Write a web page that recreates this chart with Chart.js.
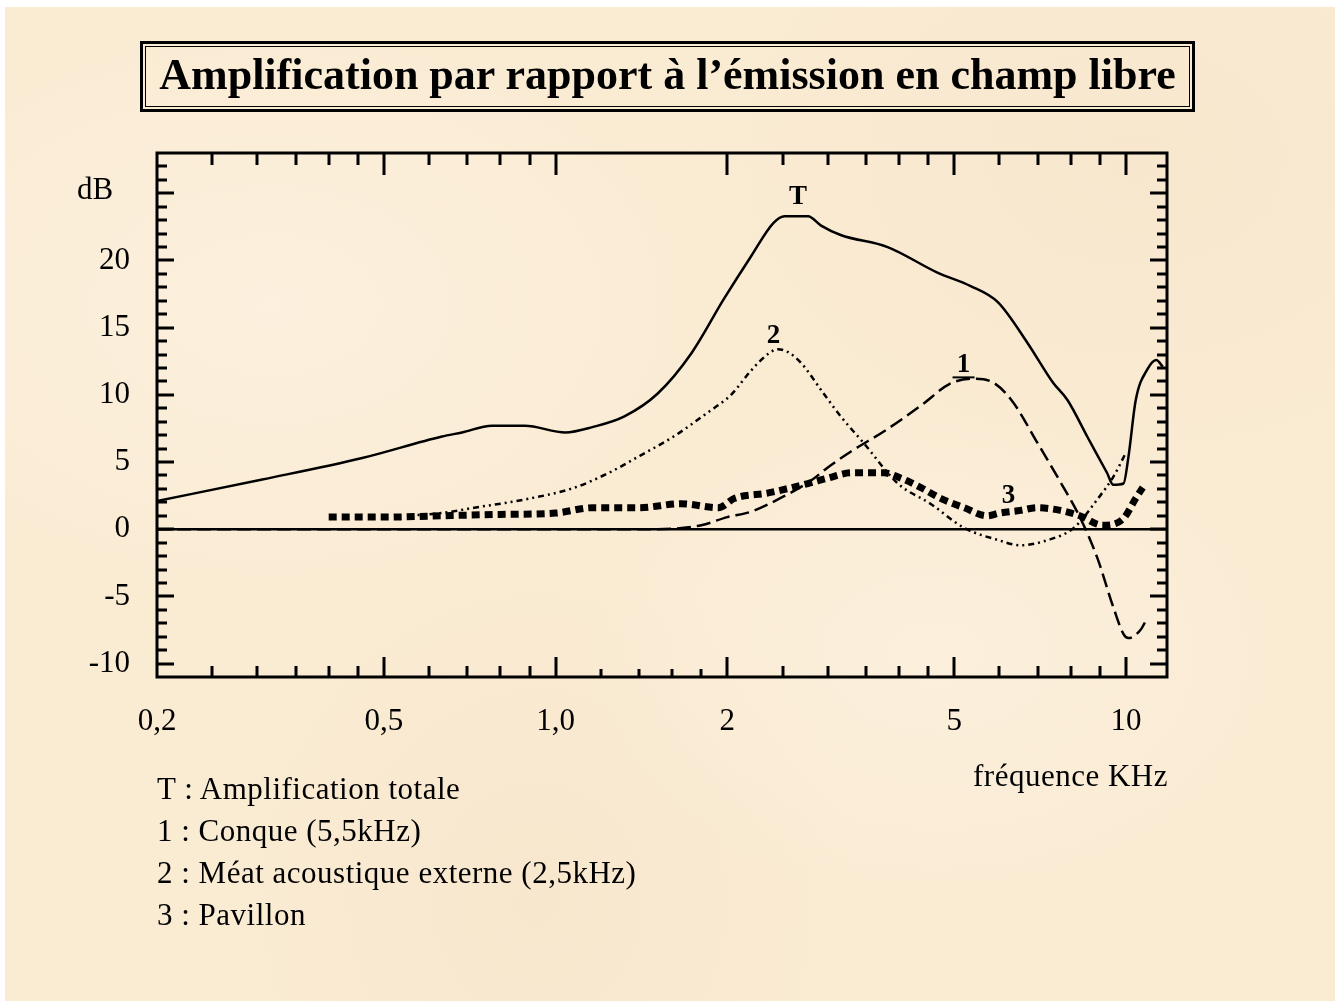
<!DOCTYPE html>
<html>
<head>
<meta charset="utf-8">
<script src="https://cdn.jsdelivr.net/npm/chart.js@4.4.1/dist/chart.umd.min.js"></script>
<style>
  body { margin: 0; background: #fff; }
  #wrap {
    position: relative; width: 1335px; height: 1001px; overflow: hidden;
    background: #fff;
  }
  #paper {
    position: absolute; left: 5px; top: 7px; right: 0; bottom: 0;
    background-color: #faebd3;
    background-image:
      radial-gradient(ellipse at 20% 30%, rgba(255,249,238,0.4), rgba(255,249,238,0) 30%),
      radial-gradient(ellipse at 70% 65%, rgba(255,249,238,0.35), rgba(255,249,238,0) 28%),
      radial-gradient(ellipse at 85% 15%, rgba(240,220,190,0.25), rgba(240,220,190,0) 28%),
      radial-gradient(ellipse at 40% 90%, rgba(240,220,190,0.25), rgba(240,220,190,0) 28%);
  }
  canvas { position: absolute; left: 0; top: 0; }
  .title {
    position: absolute; left: 140px; top: 41px; width: 1055px; height: 71px;
    box-sizing: border-box; border: 3px solid #000;
    box-shadow: inset 0 0 0 2px #faebd3, inset 0 0 0 3px #000;
    font: bold 44px "Liberation Serif", serif; text-align: center; line-height: 62px;
    color: #000; white-space: nowrap;
  }
  .legend {
    position: absolute; left: 157px; top: 768px;
    font: 31px "Liberation Serif", serif; letter-spacing: 0.5px; line-height: 42px; color: #000;
  }
  .xlabel {
    position: absolute; right: 167px; top: 758px;
    font: 31px "Liberation Serif", serif; letter-spacing: 0.5px; color: #000;
  }
</style>
</head>
<body>
<div id="wrap">
  <div id="paper"></div>
  <canvas id="chart" width="1335" height="1001"></canvas>
  <div class="title">Amplification par rapport à l’émission en champ libre</div>
  <div class="xlabel">fréquence KHz</div>
  <div class="legend">
    <div>T : Amplification totale</div>
    <div>1 : Conque (5,5kHz)</div>
    <div>2 : Méat acoustique externe (2,5kHz)</div>
    <div>3 : Pavillon</div>
  </div>
</div>
<script>
// T : amplification totale
const freqT = [0.2, 0.306, 0.458, 0.632, 0.685, 0.773, 0.883, 1.04, 1.16, 1.32, 1.51, 1.73, 1.97, 2.2, 2.41, 2.52, 2.77, 2.92, 3.16, 3.82, 4.67, 5.34, 5.96, 6.71, 7.45, 7.9, 8.55, 9.26, 9.5, 9.9, 10.1, 10.4, 10.9, 11.3, 11.6];
const ampT  = [2.1, 3.7, 5.3, 6.9, 7.2, 7.7, 7.7, 7.2, 7.6, 8.4, 10.1, 13.1, 17.1, 20.3, 22.8, 23.3, 23.3, 22.6, 21.9, 21.0, 19.1, 18.1, 16.9, 13.9, 10.9, 9.6, 6.9, 4.2, 3.3, 3.4, 5.4, 9.6, 11.9, 12.6, 12.1];

// 1 : conque
const freq1 = [0.2, 0.3, 0.5, 1.0, 1.5, 1.8, 2.0, 2.2, 2.5, 2.8, 3.0, 3.3, 3.8, 4.4, 4.9, 5.4, 5.8, 6.3, 7.0, 7.7, 8.3, 8.9, 9.5, 9.9, 10.1, 10.6, 10.9];
const amp1  = [0.0, 0.0, 0.0, 0.0, 0.0, 0.3, 0.9, 1.3, 2.4, 3.6, 4.6, 5.8, 7.4, 9.3, 10.8, 11.2, 11.0, 9.6, 6.4, 3.4, 0.9, -2.1, -5.8, -7.8, -8.1, -7.5, -6.6];

// 2 : méat acoustique externe
const freq2 = [0.55, 0.63, 0.72, 0.88, 1.08, 1.24, 1.41, 1.61, 1.85, 2.03, 2.2, 2.35, 2.45, 2.55, 2.69, 2.95, 3.16, 3.47, 3.98, 4.54, 5.2, 5.96, 6.53, 7.3, 8.1, 8.9, 9.5, 10.0];
const amp2  = [1.0, 1.2, 1.6, 2.2, 3.1, 4.2, 5.5, 6.9, 8.7, 10.0, 11.8, 13.0, 13.4, 13.2, 12.4, 10.1, 8.4, 6.4, 3.4, 1.9, 0.1, -0.8, -1.2, -0.8, 0.1, 2.2, 3.9, 5.7];

// 3 : pavillon
const freq3 = [0.4, 0.5, 0.63, 0.8, 1.0, 1.16, 1.4, 1.66, 1.93, 2.06, 2.36, 2.77, 3.0, 3.3, 3.76, 4.03, 4.37, 4.73, 5.2, 5.71, 6.0, 6.53, 6.98, 7.67, 8.3, 9.1, 9.9, 10.4, 10.7];
const amp3  = [0.9, 0.9, 1.0, 1.1, 1.2, 1.6, 1.6, 1.9, 1.6, 2.3, 2.7, 3.4, 3.8, 4.2, 4.2, 3.8, 3.1, 2.3, 1.6, 1.0, 1.2, 1.4, 1.6, 1.4, 1.0, 0.3, 0.8, 2.3, 3.1];

const zeroFreq = [0.2, 11.8];
const zeroAmp  = [0, 0];

// axes
const xTickValues = [0.2, 0.5, 1, 2, 5, 10];
const xTickText   = ['0,2', '0,5', '1,0', '2', '5', '10'];
const xMinorTicks = [0.25, 0.3, 0.35, 0.4, 0.45, 0.6, 0.7, 0.8, 0.9, 2.5, 3, 3.5, 4, 4.5, 6, 7, 8, 9];
const xSmallTicks = [1.2, 1.4, 1.6, 1.8];
const xMajorTicks = [0.5, 1, 2, 5, 10];
const yTickValues = [-10, -5, 0, 5, 10, 15, 20];
const yTickText   = ['-10', '-5', '0', '5', '10', '15', '20'];
const yMajorTicks = [-10, -5, 0, 5, 10, 15, 20, 25];
const yMinorTicks = [];
for (let v = -10; v <= 27; v++) if (v % 5 !== 0) yMinorTicks.push(v);

// curve labels
const curveLabels = [
  { text: 'T', x: 2.66, y: 24.7 },
  { text: '2', x: 2.41, y: 14.4 },
  { text: '1', x: 5.19, y: 12.2 },
  { text: '3', x: 6.22, y: 2.5 }
];

const pts = (xs, ys) => xs.map((x, i) => ({ x: x, y: ys[i] }));

const framePlugin = {
  id: 'frame',
  afterDraw(chart) {
    const ctx = chart.ctx;
    const a = chart.chartArea;
    const sx = chart.scales.x, sy = chart.scales.y;
    ctx.save();
    ctx.strokeStyle = '#000';
    ctx.lineWidth = 3;
    ctx.strokeRect(a.left, a.top, a.right - a.left, a.bottom - a.top);

    ctx.beginPath();
    const xt = (v, lenB, lenT) => {
      const px = Math.round(sx.getPixelForValue(v));
      ctx.moveTo(px, a.bottom); ctx.lineTo(px, a.bottom - lenB);
      if (lenT) { ctx.moveTo(px, a.top); ctx.lineTo(px, a.top + lenT); }
    };
    xMajorTicks.forEach(v => xt(v, 20, 22));
    xMinorTicks.forEach(v => xt(v, 11, 12));
    xSmallTicks.forEach(v => xt(v, 8, 0));
    const yt = (v, len) => {
      const py = Math.round(sy.getPixelForValue(v));
      ctx.moveTo(a.left, py); ctx.lineTo(a.left + len, py);
      ctx.moveTo(a.right, py); ctx.lineTo(a.right - len, py);
    };
    yMajorTicks.forEach(v => yt(v, 17));
    yMinorTicks.forEach(v => yt(v, 10));
    ctx.stroke();

    ctx.fillStyle = '#000';
    ctx.font = '31px "Liberation Serif"';
    ctx.textAlign = 'center';
    ctx.textBaseline = 'middle';
    ctx.fillText('dB', 95, sy.getPixelForValue(25.2));

    ctx.font = 'bold 27px "Liberation Serif"';
    curveLabels.forEach(l => {
      ctx.fillText(l.text, sx.getPixelForValue(l.x), sy.getPixelForValue(l.y));
    });
    // underline of label 1
    ctx.lineWidth = 2;
    ctx.beginPath();
    const u = sx.getPixelForValue(5.19), uy = sy.getPixelForValue(11.3);
    ctx.moveTo(u - 11, uy); ctx.lineTo(u + 11, uy);
    ctx.stroke();
    ctx.restore();
  }
};

const line = (data, width, dash) => ({
  data: data, borderColor: '#000', borderWidth: width, borderDash: dash,
  pointRadius: 0, fill: false, cubicInterpolationMode: 'monotone', borderCapStyle: 'butt'
});

new Chart(document.getElementById('chart'), {
  type: 'line',
  data: {
    datasets: [
      Object.assign(line(pts(zeroFreq, zeroAmp), 2.5, []), { cubicInterpolationMode: 'default', tension: 0 }),
      line(pts(freq3, amp3), 7, [8, 5]),
      line(pts(freq1, amp1), 2.5, [14, 6]),
      line(pts(freq2, amp2), 2.5, [6, 4, 2, 4, 2, 4]),
      line(pts(freqT, ampT), 2.5, [])
    ]
  },
  options: {
    responsive: false,
    animation: false,
    events: [],
    layout: { padding: { left: 57, top: 153, right: 168, bottom: 264 } },
    plugins: { legend: { display: false }, tooltip: { enabled: false }, title: { display: false } },
    scales: {
      x: {
        type: 'logarithmic', min: 0.2, max: 11.8,
        grid: { display: false, drawTicks: false }, border: { display: false },
        afterBuildTicks: s => { s.ticks = xTickValues.map(v => ({ value: v })); },
        afterFit: s => { s.height = 60; },
        ticks: {
          autoSkip: false, maxRotation: 0, padding: 26, color: '#000',
          font: { family: 'Liberation Serif', size: 31 },
          callback: (v, i) => xTickText[i]
        }
      },
      y: {
        type: 'linear', min: -11, max: 28,
        grid: { display: false, drawTicks: false }, border: { display: false },
        afterBuildTicks: s => { s.ticks = yTickValues.map(v => ({ value: v })); },
        afterFit: s => { s.width = 100; },
        ticks: {
          padding: 27, color: '#000',
          font: { family: 'Liberation Serif', size: 31 },
          callback: (v, i) => yTickText[i]
        }
      }
    }
  },
  plugins: [framePlugin]
});
</script>
</body>
</html>
